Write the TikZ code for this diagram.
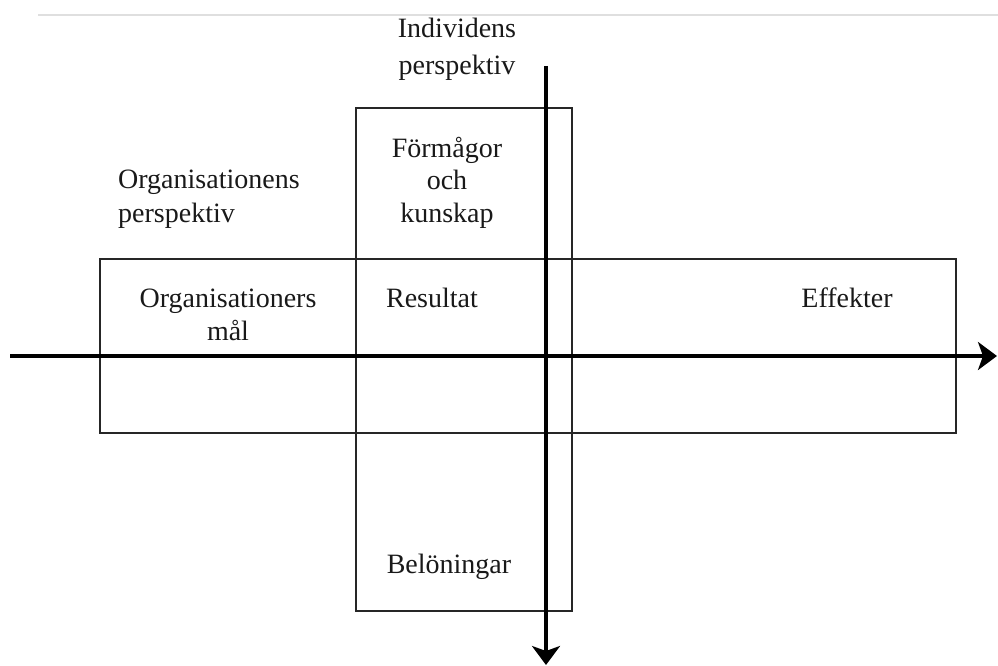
\documentclass[tikz,border=0pt]{standalone}
\usepackage{fontspec}
\setmainfont{Liberation Serif}
\usetikzlibrary{arrows.meta}
\begin{document}
\begin{tikzpicture}[x=1pt,y=-1pt,
  box/.style={draw=black!85,line width=1.6pt},
  axis/.style={draw=black,line width=3.2pt,-{Stealth[length=19pt,width=28pt,inset=5pt]}},
  lbl/.style={font=\fontsize{28}{33}\selectfont,inner sep=0pt,text=black!90}]
\useasboundingbox (0,0) rectangle (998,666);
\draw[gray!25,line width=1.5pt] (38,15) -- (998,15);
% boxes
\path[box] (100,259) rectangle (956,433);
\path[box] (356,108) rectangle (572,611);
% axes
\coordinate (hs) at (10,356);
\coordinate (he) at (997,356);
\coordinate (vs) at (546,66);
\coordinate (ve) at (546,665);
\draw[axis] (hs) -- (he);
\draw[axis] (vs) -- (ve);
% labels
\node[lbl,font=\fontsize{28}{37}\selectfont,align=center,anchor=base] (ind) at (457,75) {Individens\\perspektiv};
\node[lbl,font=\fontsize{28}{34}\selectfont,align=left,anchor=base west] (org) at (118,222) {Organisationens\\perspektiv};
\node[lbl,font=\fontsize{28}{32.5}\selectfont,align=center,anchor=base] (form) at (447,222) {Förmågor\\och\\kunskap};
\node[lbl,align=center,anchor=base] (omal) at (228,340) {Organisationers\\mål};
\node[lbl,anchor=base] (res) at (432,307) {Resultat};
\node[lbl,anchor=base] (eff) at (847,307) {Effekter};
\node[lbl,anchor=base] (bel) at (449,573) {Belöningar};
\end{tikzpicture}
\end{document}
